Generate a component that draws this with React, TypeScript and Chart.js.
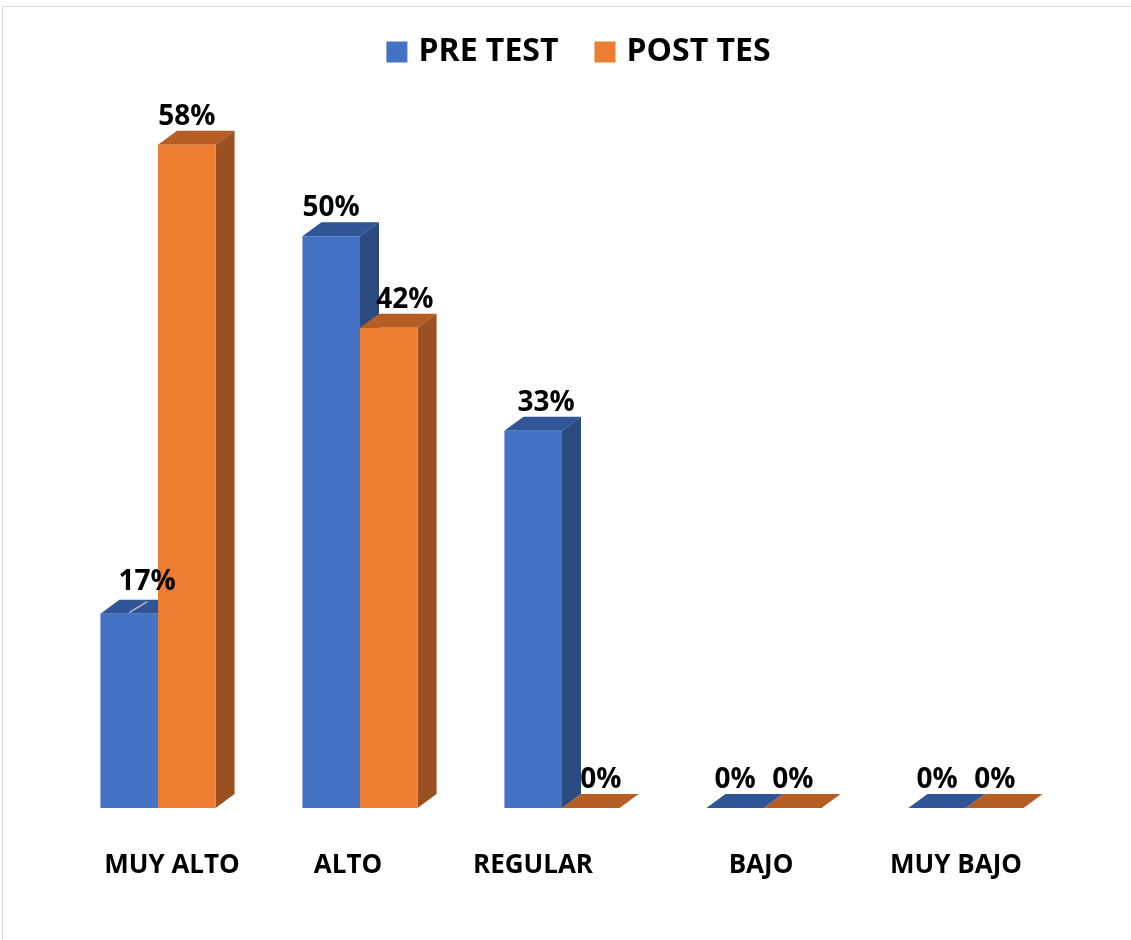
import React, { useEffect, useRef } from 'react';
import { Chart, registerables } from 'chart.js';

Chart.register(...registerables);

// ---- data ----
const CATEGORIES = ['MUY ALTO', 'ALTO', 'REGULAR', 'BAJO', 'MUY BAJO'];
const SERIES_NAMES = ['PRE TEST', 'POST TES'];
const PRE_TEST = [17, 50, 33, 0, 0];
const POST_TEST = [58, 42, 0, 0, 0];
const Y_MAX = 60;

// ---- style ----
const FONT = "'Open Sans', 'Liberation Sans', sans-serif";
const FRONT = ['#4472C4', '#ED7D31'];
const TOP = ['#2F5597', '#B55D22'];
const SIDE = ['#2B4A80', '#9A5020'];
const DEPTH_X = 19;
const DEPTH_Y = 14;
// label nudges [dx, dy] per series / category (manual placement as in the source)
const LABEL_NUDGE = [
  [[18, -4], [0, 0], [13, 0], [0, 0], [0, 0]],
  [[0, 0], [16, 0], [10, 0], [0, 0], [0, 0]],
];
const LEADER = [
  [true, false, false, false, false],
  [false, false, false, false, false],
];
// category label horizontal nudges
const TICK_NUDGE = [14, -12, -29, -3, -10];

const framePlugin = {
  id: 'frame',
  beforeDraw(chart: any) {
    const ctx = chart.ctx;
    ctx.save();
    ctx.fillStyle = '#ffffff';
    ctx.fillRect(0, 0, chart.width, chart.height);
    ctx.strokeStyle = '#d9d9d9';
    ctx.lineWidth = 1;
    ctx.beginPath();
    ctx.moveTo(2.5, chart.height);
    ctx.lineTo(2.5, 6.5);
    ctx.lineTo(chart.width, 6.5);
    ctx.stroke();
    ctx.restore();
  },
};

const bar3dPlugin = {
  id: 'bar3d',
  beforeDatasetsDraw(chart: any) {
    const ctx = chart.ctx;
    ctx.save();
    chart.data.datasets.forEach((ds: any, di: number) => {
      const meta = chart.getDatasetMeta(di);
      meta.data.forEach((el: any) => {
        const { x, y, base, width } = el.getProps(['x', 'y', 'base', 'width'], true);
        const l = x - width / 2;
        const r = x + width / 2;
        ctx.fillStyle = TOP[di];
        ctx.beginPath();
        ctx.moveTo(l, y);
        ctx.lineTo(l + DEPTH_X, y - DEPTH_Y);
        ctx.lineTo(r + DEPTH_X, y - DEPTH_Y);
        ctx.lineTo(r, y);
        ctx.closePath();
        ctx.fill();
        if (base - y > 0.5) {
          ctx.fillStyle = SIDE[di];
          ctx.beginPath();
          ctx.moveTo(r, y);
          ctx.lineTo(r + DEPTH_X, y - DEPTH_Y);
          ctx.lineTo(r + DEPTH_X, base - DEPTH_Y);
          ctx.lineTo(r, base);
          ctx.closePath();
          ctx.fill();
        }
      });
    });
    ctx.restore();
  },
  afterDatasetsDraw(chart: any) {
    const ctx = chart.ctx;
    ctx.save();
    ctx.font = `bold 28px ${FONT}`;
    ctx.fillStyle = '#000000';
    ctx.textAlign = 'center';
    ctx.textBaseline = 'alphabetic';
    chart.data.datasets.forEach((ds: any, di: number) => {
      const meta = chart.getDatasetMeta(di);
      meta.data.forEach((el: any, i: number) => {
        const { x, y } = el.getProps(['x', 'y'], true);
        const [nx, ny] = LABEL_NUDGE[di][i];
        const lx = x + nx;
        const ly = y - 20 + ny;
        if (LEADER[di][i]) {
          ctx.strokeStyle = '#bfbfbf';
          ctx.lineWidth = 1.2;
          ctx.beginPath();
          ctx.moveTo(x, y - 1);
          ctx.lineTo(lx, ly + 12);
          ctx.stroke();
        }
        ctx.fillText(`${ds.data[i]}%`, lx, ly);
      });
    });
    // category labels
    const xs = chart.scales.x;
    ctx.font = `bold 26px ${FONT}`;
    chart.data.labels.forEach((lab: string, i: number) => {
      ctx.fillText(lab, xs.getPixelForValue(i) + TICK_NUDGE[i], chart.chartArea.bottom + 65);
    });
    ctx.restore();
  },
};

const legendPlugin = {
  id: 'customLegend',
  afterDraw(chart: any) {
    const ctx = chart.ctx;
    ctx.save();
    ctx.font = `bold 32px ${FONT}`;
    const box = 21;
    const gapText = 11;
    const gapItem = 36;
    const widths = chart.data.datasets.map((d: any) => ctx.measureText(d.label).width);
    const total = widths.reduce((a: number, w: number) => a + box + gapText + w, 0) + gapItem * (widths.length - 1);
    let x = 578.5 - total / 2;
    const cy = 52;
    ctx.textAlign = 'left';
    ctx.textBaseline = 'middle';
    chart.data.datasets.forEach((d: any, i: number) => {
      ctx.fillStyle = FRONT[i];
      ctx.fillRect(x, cy - box / 2, box, box);
      ctx.fillStyle = '#000000';
      ctx.fillText(d.label, x + box + gapText, cy);
      x += box + gapText + widths[i] + gapItem;
    });
    ctx.restore();
  },
};

export default function App() {
  const ref = useRef<HTMLCanvasElement | null>(null);
  useEffect(() => {
    document.body.style.margin = '0';
    const canvas = ref.current;
    if (!canvas) return;
    const chart = new Chart(canvas, {
      type: 'bar',
      data: {
        labels: CATEGORIES,
        datasets: [
          { label: SERIES_NAMES[0], data: PRE_TEST, backgroundColor: FRONT[0], borderWidth: 0 },
          { label: SERIES_NAMES[1], data: POST_TEST, backgroundColor: FRONT[1], borderWidth: 0 },
        ],
      },
      options: {
        responsive: false,
        animation: false,
        events: [],
        layout: { padding: { left: 57, right: 64, top: 122, bottom: 132 } },
        plugins: { legend: { display: false }, tooltip: { enabled: false } },
        datasets: { bar: { categoryPercentage: 0.57, barPercentage: 1 } },
        scales: {
          x: {
            display: false,
          },
          y: { display: false, min: 0, max: Y_MAX },
        },
      },
      plugins: [framePlugin, bar3dPlugin, legendPlugin],
    } as any);
    return () => chart.destroy();
  }, []);
  return (
    <div style={{ width: 1131, height: 940, position: 'relative' }}>
      <canvas ref={ref} width={1131} height={940} style={{ display: 'block' }} />
    </div>
  );
}
